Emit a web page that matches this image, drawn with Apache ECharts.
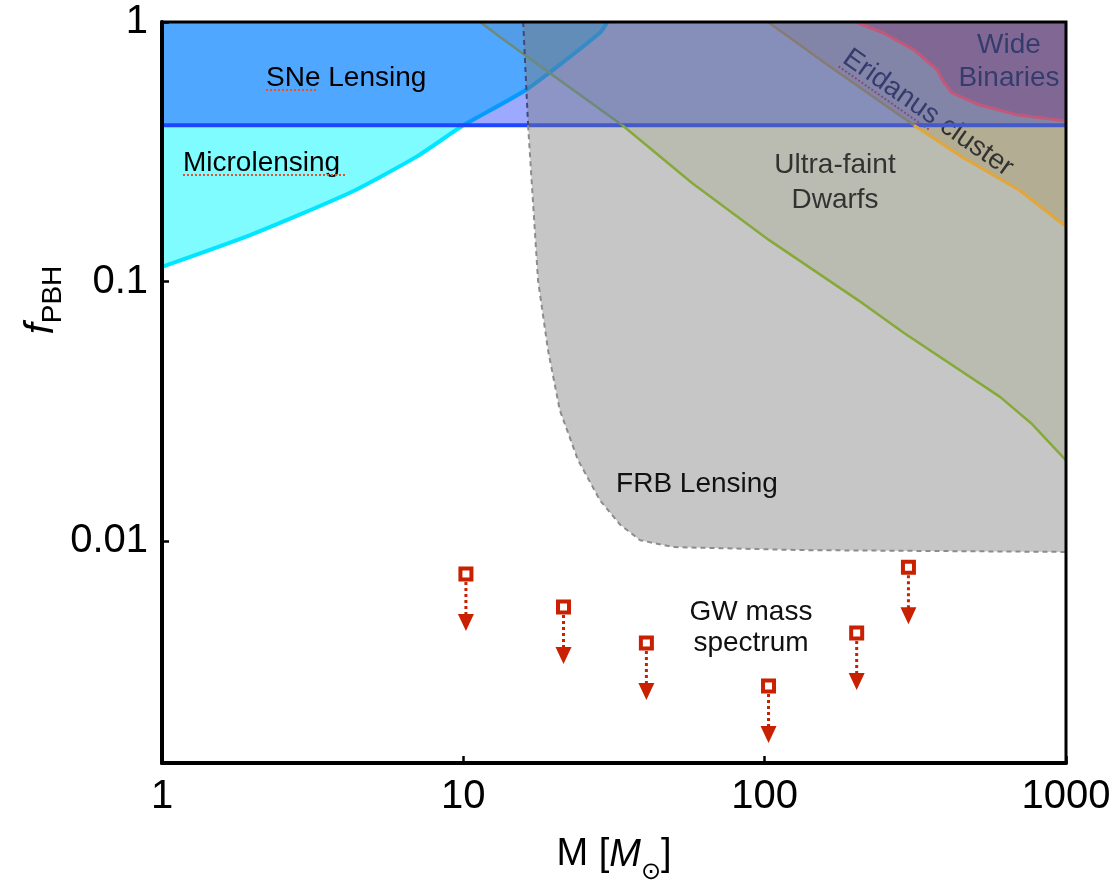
<!DOCTYPE html>
<html>
<head>
<meta charset="utf-8">
<script src="https://cdn.jsdelivr.net/npm/echarts@6/dist/echarts.min.js"></script>
<style>
  html, body { margin: 0; padding: 0; background: #fff; }
  #main { width: 1113px; height: 883px; }
</style>
</head>
<body>
<div id="main"></div>
<script>
// axis range
var xMin = 1
var xMax = 1000
var yMin = 0.0014
var yMax = 1
var xTicks = [1, 10, 100, 1000]
var yTicks = [0.01, 0.1, 1]

// constraint boundaries, points are [M, fPBH]
var microlensing = [[1, 0.114], [1.96, 0.151], [4.2, 0.22], [7.0, 0.303], [10, 0.4], [16.3, 0.552], [28.4, 0.909], [30, 1]]
var sneLensing = 0.4
var frbLensing = [[15.8, 1], [16.4, 0.4], [17.7, 0.101], [19.1, 0.0545], [20.9, 0.032], [24.0, 0.0206], [28.4, 0.0144],
  [33.1, 0.0116], [38.6, 0.0101], [49.7, 0.0095], [131, 0.00925], [1000, 0.0091]]
var ultraFaint = [[11.36, 1], [13.2, 0.877], [19.7, 0.626], [33.7, 0.4], [57.4, 0.24], [103.5, 0.1445], [204, 0.0849],
  [290, 0.0634], [604, 0.036], [766, 0.0285], [1000, 0.0205]]
var eridanus = [[102.6, 1], [165, 0.672], [313, 0.4], [452, 0.302], [699, 0.2255], [1000, 0.163]]
var wideBinaries = [[201, 1], [247, 0.909], [313, 0.781], [373, 0.655], [394, 0.583], [419, 0.533], [515, 0.48],
  [688, 0.439], [1000, 0.416]]

// GW mass spectrum upper limits
var gwMass = [10.2, 21.5, 40.5, 103, 202, 300]
var gwLimit = [0.00748, 0.00558, 0.00406, 0.00277, 0.00443, 0.00795]

var FONT = 'Liberation Sans, Arial, Helvetica, sans-serif'
var RED = '#c82000'

// regions closed along the top / right frame
var microPoly = microlensing.concat([[xMin, yMax]])
var snePoly = [[xMin, sneLensing], [xMax, sneLensing], [xMax, yMax], [xMin, yMax]]
function closeTopRight (edge) { return edge.concat([[xMax, yMax]]) }

function inBand (edge) { return edge.filter(function (p) { return p[1] >= sneLensing }) }
function belowBand (edge) { return edge.filter(function (p) { return p[1] <= sneLensing }) }

function area (pts, color, z) {
  return {
    type: 'custom',
    z: z,
    silent: true,
    data: [[xMin, yMax]],
    renderItem: function (params, api) {
      return {
        type: 'polygon',
        shape: { points: pts.map(function (p) { return api.coord(p) }) },
        style: { fill: color }
      }
    }
  }
}

function edge (pts, color, width, z, dash, smooth) {
  return {
    type: 'line',
    z: z,
    silent: true,
    symbol: 'none',
    smooth: smooth || false,
    data: pts,
    lineStyle: { color: color, width: width, type: dash || 'solid' }
  }
}

var chart = echarts.init(document.getElementById('main'))

var option = {
  animation: false,
  grid: {
    left: 162, right: 47, top: 22, bottom: 120,
    outerBoundsMode: 'none',
    show: true, z: 13, borderColor: '#000', borderWidth: 3, backgroundColor: 'transparent'
  },
  xAxis: {
    type: 'log',
    logBase: 10,
    min: xMin,
    max: xMax,
    z: 13,
    axisLine: { lineStyle: { color: '#000', width: 4 } },
    axisTick: { inside: true, length: 7, lineStyle: { color: '#000', width: 2.5 } },
    splitLine: { show: false },
    axisLabel: {
      fontSize: 40, color: '#000', fontFamily: FONT, margin: 14,
      formatter: function (v) {
        var t = xTicks.filter(function (k) { return Math.abs(k - v) / k < 1e-6 })
        return t.length ? String(t[0]) : ''
      }
    },
    name: '{n|M [}{i|M}{s|⊙}{n|]}',
    nameLocation: 'middle',
    nameGap: 62,
    nameTextStyle: {
      color: '#000',
      rich: {
        n: { fontSize: 38, fontFamily: FONT, color: '#000', lineHeight: 60 },
        i: { fontSize: 38, fontFamily: FONT, fontStyle: 'italic', color: '#000', lineHeight: 60 },
        s: { fontSize: 24, fontFamily: 'DejaVu Sans', color: '#000', verticalAlign: 'bottom' }
      }
    }
  },
  yAxis: {
    type: 'log',
    logBase: 10,
    min: yMin,
    max: yMax,
    z: 13,
    axisLine: { lineStyle: { color: '#000', width: 4 } },
    axisTick: { inside: true, length: 7, lineStyle: { color: '#000', width: 2.5 } },
    splitLine: { show: false },
    axisLabel: {
      fontSize: 40, color: '#000', fontFamily: FONT, margin: 14,
      formatter: function (v) {
        var t = yTicks.filter(function (k) { return Math.abs(k - v) / k < 1e-6 })
        return t.length ? String(t[0]) : ''
      }
    }
  },
  graphic: [
    {
      type: 'text', x: 42, y: 300, rotation: Math.PI / 2, z: 20,
      style: {
        text: '{i|f}{s|PBH}', align: 'center', verticalAlign: 'middle',
        rich: {
          i: { fontSize: 40, fontFamily: FONT, fontStyle: 'italic', fill: '#000', lineHeight: 50 },
          s: { fontSize: 28, fontFamily: FONT, fill: '#000', verticalAlign: 'bottom' }
        }
      }
    },
    // labels sitting under the SNe / FRB shading
    {
      type: 'text', x: 835, y: 183, z: 6,
      style: { text: 'Ultra-faint\nDwarfs', fontSize: 28, fontFamily: FONT, fill: '#000', align: 'center', verticalAlign: 'middle', lineHeight: 35 }
    },
    {
      type: 'text', x: 1009, y: 62, z: 6,
      style: { text: 'Wide\nBinaries', fontSize: 28, fontFamily: FONT, fill: '#000', align: 'center', verticalAlign: 'middle', lineHeight: 33 }
    },
    {
      type: 'group', x: 928, y: 113, rotation: -0.61, z: 6,
      children: [
        { type: 'text', z: 6, style: { text: 'Eridanus cluster', fontSize: 28, fontFamily: FONT, fill: '#000', align: 'center', verticalAlign: 'middle' } },
        { type: 'line', z: 6, shape: { x1: -100, y1: 13, x2: 10, y2: 13 }, style: { stroke: '#e03030', lineWidth: 2, lineDash: [2, 2] } }
      ]
    },
    // labels on top
    {
      type: 'text', x: 266, y: 78, z: 12,
      style: { text: 'SNe Lensing', fontSize: 28, fontFamily: FONT, fill: '#000', align: 'left', verticalAlign: 'middle' }
    },
    { type: 'line', z: 12, shape: { x1: 266, y1: 90, x2: 318, y2: 90 }, style: { stroke: '#e8502a', lineWidth: 2, lineDash: [2, 2] } },
    {
      type: 'text', x: 183, y: 163, z: 12,
      style: { text: 'Microlensing', fontSize: 28, fontFamily: FONT, fill: '#000', align: 'left', verticalAlign: 'middle' }
    },
    { type: 'line', z: 12, shape: { x1: 183, y1: 175, x2: 347, y2: 175 }, style: { stroke: '#e8502a', lineWidth: 2, lineDash: [2, 2] } },
    {
      type: 'text', x: 697, y: 484, z: 12,
      style: { text: 'FRB Lensing', fontSize: 28, fontFamily: FONT, fill: '#111', align: 'center', verticalAlign: 'middle' }
    },
    {
      type: 'text', x: 751, y: 628, z: 12,
      style: { text: 'GW mass\nspectrum', fontSize: 28, fontFamily: FONT, fill: '#111', align: 'center', verticalAlign: 'middle', lineHeight: 31 }
    }
  ],
  series: [
    area(microPoly, 'rgba(0,250,255,0.5)', 1),
    area(closeTopRight(ultraFaint), 'rgba(150,160,70,0.2)', 2),
    area(closeTopRight(eridanus), 'rgba(190,140,20,0.25)', 3),
    area(closeTopRight(wideBinaries), 'rgba(215,50,55,0.5)', 4),
    edge(microlensing, '#00e6ff', 4, 5, null, 0.2),
    area(snePoly, 'rgba(10,40,255,0.4)', 7),
    edge([[xMin, sneLensing], [xMax, sneLensing]], '#1f46ff', 4, 8),
    area(closeTopRight(frbLensing), 'rgba(120,120,120,0.42)', 9),
    edge(inBand(ultraFaint), '#6e8a78', 2.5, 10),
    edge(belowBand(ultraFaint), '#86aa3a', 2.5, 10),
    edge(inBand(eridanus), '#857c74', 2.5, 10),
    edge(belowBand(eridanus), '#e2a63a', 3, 10),
    edge(wideBinaries, '#c2587a', 3, 10),
    edge(inBand(frbLensing), '#3e4a7a', 2, 10, [5, 4]),
    edge(belowBand(frbLensing), '#8c8c8c', 2, 10, [5, 4]),
    {
      type: 'custom',
      z: 11,
      silent: true,
      data: gwMass.map(function (m, i) { return [m, gwLimit[i]] }),
      renderItem: function (params, api) {
        var p = api.coord([api.value(0), api.value(1)])
        return {
          type: 'group',
          children: [
            { type: 'line', shape: { x1: p[0], y1: p[1] + 8, x2: p[0], y2: p[1] + 41 }, style: { stroke: RED, lineWidth: 3, lineDash: [3, 3] } },
            { type: 'polygon', shape: { points: [[p[0] - 8, p[1] + 40], [p[0] + 8, p[1] + 40], [p[0], p[1] + 57]] }, style: { fill: RED } },
            { type: 'rect', shape: { x: p[0] - 5.5, y: p[1] - 5.5, width: 11, height: 11 }, style: { fill: '#fff', stroke: RED, lineWidth: 4 } }
          ]
        }
      }
    }
  ]
}

chart.setOption(option)
</script>
</body>
</html>
